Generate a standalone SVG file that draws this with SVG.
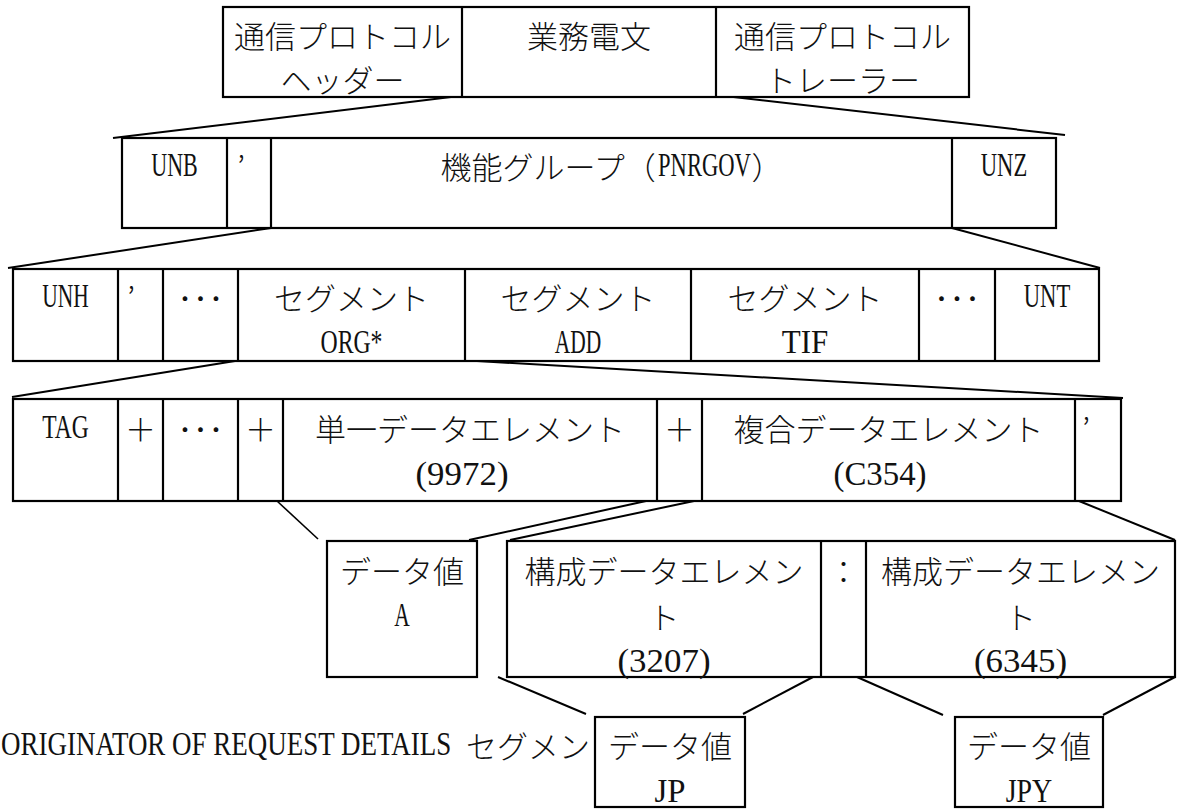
<svg xmlns="http://www.w3.org/2000/svg" width="1177" height="809" viewBox="0 0 1177 809">
<style>
.b{fill:#fff;stroke:#000;stroke-width:2.2}
.d{stroke:#000;stroke-width:2.2}
.c{stroke:#000;stroke-width:2;fill:none}
.j{font-family:"Noto Sans CJK JP",sans-serif;font-size:31px;font-weight:300;fill:#111;dominant-baseline:central;text-anchor:middle}
.js{font-family:"Noto Sans CJK JP",sans-serif;font-size:31px;font-weight:300;fill:#111;dominant-baseline:central;text-anchor:start}
.l{font-family:"Liberation Serif",serif;font-size:33px;fill:#111;dominant-baseline:central;text-anchor:middle}
.ls{font-family:"Liberation Serif",serif;font-size:33px;fill:#111;dominant-baseline:central;text-anchor:start}
</style>
<rect width="1177" height="809" fill="#fff"/>

<g id="connectors">
<line class="c" x1="451" y1="97" x2="113" y2="138"/>
<line class="c" x1="716" y1="95" x2="1065" y2="135"/>
<line class="c" x1="271" y1="228" x2="8" y2="268"/>
<line class="c" x1="952" y1="228" x2="1100" y2="268"/>
<line class="c" x1="235" y1="361" x2="12" y2="397"/>
<line class="c" x1="477" y1="361" x2="1123" y2="398"/>
<line class="c" x1="277" y1="501" x2="318" y2="539" style="stroke-width:1.6"/>
<line class="c" x1="646" y1="501" x2="469" y2="540"/>
<line class="c" x1="694" y1="501" x2="510" y2="540"/>
<line class="c" x1="1079" y1="501" x2="1175" y2="540"/>
<line class="c" x1="498" y1="677" x2="586" y2="714"/>
<line class="c" x1="813" y1="677" x2="743" y2="714"/>
<line class="c" x1="857" y1="677" x2="943" y2="715"/>
<line class="c" x1="1175" y1="677" x2="1103" y2="715"/>
</g>

<g id="message">
<rect class="b" x="223" y="7" width="746" height="90"/>
<line class="d" x1="462" y1="7" x2="462" y2="97"/>
<line class="d" x1="716" y1="7" x2="716" y2="97"/>
<text class="j" x="342.5" y="34">通信プロトコル</text>
<text class="j" x="342.5" y="78">ヘッダー</text>
<text class="j" x="589" y="34">業務電文</text>
<text class="j" x="842.5" y="34">通信プロトコル</text>
<text class="j" x="842.5" y="78">トレーラー</text>
</g>

<g id="interchange">
<rect class="b" x="122" y="138" width="934" height="90"/>
<line class="d" x1="227" y1="138" x2="227" y2="228"/>
<line class="d" x1="271" y1="138" x2="271" y2="228"/>
<line class="d" x1="952" y1="138" x2="952" y2="228"/>
<text class="l" x="174.5" y="165" textLength="46.5" lengthAdjust="spacingAndGlyphs">UNB</text>
<text class="j" x="241" y="165">’</text>
<text class="js" x="440.5" y="165">機能グループ（</text>
<text class="ls" transform="translate(658,165) scale(0.685,1)" x="0" y="0">PNRGOV</text>
<text class="js" x="751.5" y="165">）</text>
<text class="l" x="1004" y="165" textLength="46.5" lengthAdjust="spacingAndGlyphs">UNZ</text>
</g>

<g id="message-group">
<rect class="b" x="13" y="269" width="1086" height="92"/>
<line class="d" x1="118" y1="269" x2="118" y2="361"/>
<line class="d" x1="163" y1="269" x2="163" y2="361"/>
<line class="d" x1="238" y1="269" x2="238" y2="361"/>
<line class="d" x1="465" y1="269" x2="465" y2="361"/>
<line class="d" x1="691" y1="269" x2="691" y2="361"/>
<line class="d" x1="919" y1="269" x2="919" y2="361"/>
<line class="d" x1="995" y1="269" x2="995" y2="361"/>
<text class="l" x="65.5" y="296" textLength="46.5" lengthAdjust="spacingAndGlyphs">UNH</text>
<text class="j" x="131" y="296">’</text>
<text class="j" x="200.5" y="296">･･･</text>
<text class="j" x="351.5" y="296">セグメント</text>
<text class="l" x="351.5" y="342" textLength="62" lengthAdjust="spacingAndGlyphs">ORG*</text>
<text class="j" x="578" y="296">セグメント</text>
<text class="l" x="578" y="342" textLength="46.5" lengthAdjust="spacingAndGlyphs">ADD</text>
<text class="j" x="805" y="296">セグメント</text>
<text class="l" x="805" y="342" textLength="46.5" lengthAdjust="spacingAndGlyphs">TIF</text>
<text class="j" x="957" y="296">･･･</text>
<text class="l" x="1047" y="296" textLength="46.5" lengthAdjust="spacingAndGlyphs">UNT</text>
</g>

<g id="segment">
<rect class="b" x="13" y="399" width="1108" height="102"/>
<line class="d" x1="118" y1="399" x2="118" y2="501"/>
<line class="d" x1="163" y1="399" x2="163" y2="501"/>
<line class="d" x1="238" y1="399" x2="238" y2="501"/>
<line class="d" x1="283" y1="399" x2="283" y2="501"/>
<line class="d" x1="657" y1="399" x2="657" y2="501"/>
<line class="d" x1="702" y1="399" x2="702" y2="501"/>
<line class="d" x1="1075" y1="399" x2="1075" y2="501"/>
<text class="l" x="65.5" y="427" textLength="46.5" lengthAdjust="spacingAndGlyphs">TAG</text>
<text class="j" x="140.5" y="427">＋</text>
<text class="j" x="200.5" y="427">･･･</text>
<text class="j" x="260.5" y="427">＋</text>
<text class="j" x="470" y="427">単一データエレメント</text>
<text class="l" x="462" y="474" textLength="93" lengthAdjust="spacingAndGlyphs">(9972)</text>
<text class="j" x="679.5" y="427">＋</text>
<text class="j" x="888.5" y="427">複合データエレメント</text>
<text class="l" x="880" y="474" textLength="93" lengthAdjust="spacingAndGlyphs">(C354)</text>
<text class="j" x="1086" y="427">’</text>
</g>

<g id="value-a">
<rect class="b" x="327" y="541" width="150" height="136"/>
<text class="j" x="402" y="569">データ値</text>
<text class="l" x="402" y="615" textLength="15.5" lengthAdjust="spacingAndGlyphs">A</text>
</g>

<g id="composite">
<rect class="b" x="507" y="541" width="668" height="136"/>
<line class="d" x1="821" y1="541" x2="821" y2="677"/>
<line class="d" x1="866" y1="541" x2="866" y2="677"/>
<text class="j" x="664" y="569">構成データエレメン</text>
<text class="j" x="664" y="615">ト</text>
<text class="l" x="664" y="661" textLength="93" lengthAdjust="spacingAndGlyphs">(3207)</text>
<text class="j" x="843.5" y="569">：</text>
<text class="j" x="1020.5" y="569">構成データエレメン</text>
<text class="j" x="1020.5" y="615">ト</text>
<text class="l" x="1020.5" y="661" textLength="93" lengthAdjust="spacingAndGlyphs">(6345)</text>
</g>

<g id="label">
<text class="ls" transform="translate(1,744) scale(0.818,1)" x="0" y="0">ORIGINATOR OF REQUEST DETAILS</text>
<text class="js" x="466" y="744">セグメン</text>
</g>

<g id="value-jp">
<rect class="b" x="595" y="717" width="150" height="90"/>
<text class="j" x="670" y="744">データ値</text>
<text class="l" x="670" y="791" textLength="31" lengthAdjust="spacingAndGlyphs">JP</text>
</g>

<g id="value-jpy">
<rect class="b" x="955" y="717" width="148" height="90"/>
<text class="j" x="1029" y="744">データ値</text>
<text class="l" x="1029" y="791" textLength="46.5" lengthAdjust="spacingAndGlyphs">JPY</text>
</g>
</svg>
